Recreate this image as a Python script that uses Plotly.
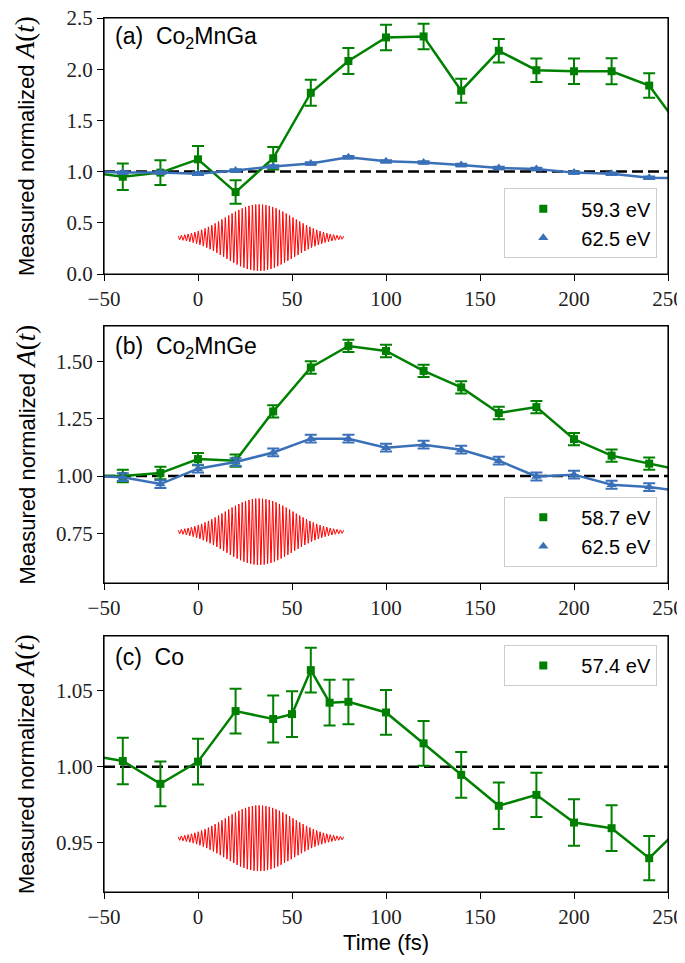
import numpy as np
import plotly.graph_objects as go
from plotly.subplots import make_subplots

# ---------------- data ----------------
time_ab = [-60, -40, -20, 0, 20, 40, 60, 80, 100, 120, 140, 160, 180, 200, 220, 240, 260]

# (a) Co2MnGa
ga_593 = [1.00, 0.95, 0.99, 1.12, 0.80, 1.13, 1.77, 2.08, 2.31, 2.32, 1.79, 2.18, 1.99, 1.98, 1.98, 1.84, 1.34]
ga_593_err = [0.12, 0.13, 0.12, 0.13, 0.115, 0.11, 0.127, 0.127, 0.125, 0.125, 0.117, 0.115, 0.115, 0.125, 0.127, 0.12, 0.12]
ga_625 = [1.00, 0.99, 0.99, 0.98, 1.01, 1.05, 1.08, 1.14, 1.10, 1.09, 1.065, 1.035, 1.025, 0.99, 0.98, 0.94, 0.935]
ga_625_err = [0.012] * 17

# (b) Co2MnGe
ge_587 = [1.00, 1.00, 1.013, 1.074, 1.067, 1.282, 1.474, 1.568, 1.546, 1.459, 1.387, 1.275, 1.301, 1.161, 1.089, 1.054, 1.02]
ge_587_err = [0.027] * 17
ge_625 = [1.00, 0.995, 0.965, 1.032, 1.061, 1.103, 1.163, 1.163, 1.124, 1.137, 1.115, 1.067, 0.998, 1.006, 0.962, 0.952, 0.93]
ge_625_err = [0.017] * 17

# (c) Co
time_c = [-60, -40, -20, 0, 20, 40, 50, 60, 70, 80, 100, 120, 140, 160, 180, 200, 220, 240, 260]
co_574 = [1.008, 1.0037, 0.9887, 1.0033, 1.0365, 1.0313, 1.0345, 1.0634, 1.042, 1.0426, 1.0356, 1.0153,
          0.9946, 0.9743, 0.9815, 0.9633, 0.9596, 0.9399, 0.964]
co_574_err = [0.015, 0.0153, 0.0147, 0.015, 0.0147, 0.0154, 0.015, 0.0147, 0.015, 0.0147, 0.0147, 0.0147,
              0.015, 0.0153, 0.0145, 0.0153, 0.015, 0.0145, 0.015]

panel_labels = ["(a)&nbsp; Co<sub>2</sub>MnGa", "(b)&nbsp; Co<sub>2</sub>MnGe", "(c)&nbsp; Co"]
legend_names_a = ["59.3 eV", "62.5 eV"]
legend_names_b = ["58.7 eV", "62.5 eV"]
legend_names_c = ["57.4 eV"]

# schematic pump pulse (illustration only)
pulse_center_t, pulse_sigma, pulse_period = 32.5, 18.0, 1.8
pulse_t = np.linspace(-10.5, 77.5, 2000)
pulse_shape = np.exp(-(pulse_t - pulse_center_t) ** 2 / (2 * pulse_sigma ** 2)) * \
    np.cos(2 * np.pi * (pulse_t - pulse_center_t) / pulse_period)
pulse_offset = [0.355, 0.757, 0.953]
pulse_amp = [0.325, 0.145, 0.0216]

GREEN = "#008000"
BLUE = "#3a70b8"
SANS = "Liberation Sans"
SERIF = "Liberation Serif"

# page offset (browser body margin) and figure size
OFF = 8
W, H = 685 - OFF, 963 - 2 * OFF
PL, PR, PT, PB = 104, 668, 18, 892   # plot region in page pixels
ML, MR, MT, MB = PL - OFF, 685 - PR, PT - OFF, (OFF + H) - PB
plot_h = PB - PT


def ydom(top, bot):
    return [(PB - bot) / plot_h, (PB - top) / plot_h]


fig = make_subplots(rows=3, cols=1)


def add_series(row, t, y, err, color, symbol, size, name, legend):
    fig.add_trace(go.Scatter(x=t, y=y, mode="lines", line=dict(color=color, width=2.5),
                             showlegend=False, hoverinfo="skip"), row=row, col=1)
    fig.add_trace(go.Scatter(x=t, y=y, mode="markers",
                             marker=dict(color=color, symbol=symbol, size=size),
                             error_y=dict(type="data", array=err, color=color, thickness=2, width=6),
                             name=name, legend=legend, showlegend=True), row=row, col=1)


for i in range(3):
    fig.add_trace(go.Scatter(x=pulse_t, y=pulse_offset[i] + pulse_amp[i] * pulse_shape, mode="lines",
                             line=dict(color="#ff0000", width=1), showlegend=False, hoverinfo="skip"),
                  row=i + 1, col=1)

add_series(1, time_ab, ga_593, ga_593_err, GREEN, "square", 8, legend_names_a[0], "legend")
add_series(1, time_ab, ga_625, ga_625_err, BLUE, "triangle-up", 9, legend_names_a[1], "legend")
add_series(2, time_ab, ge_587, ge_587_err, GREEN, "square", 8, legend_names_b[0], "legend2")
add_series(2, time_ab, ge_625, ge_625_err, BLUE, "triangle-up", 9, legend_names_b[1], "legend2")
add_series(3, time_c, co_574, co_574_err, GREEN, "square", 8, legend_names_c[0], "legend3")

for r in range(1, 4):
    fig.add_hline(y=1.0, line=dict(color="black", width=2.5, dash="11px,5px"), layer="below", row=r, col=1)

ydoms = [ydom(18, 274), ydom(326, 583), ydom(636, 892)]
yranges = [[0, 2.5], [0.533, 1.655], [0.9177, 1.0858]]
ytickvals = [[0, 0.5, 1.0, 1.5, 2.0, 2.5], [0.75, 1.0, 1.25, 1.5], [0.95, 1.0, 1.05]]
ytickfmt = [".1f", ".2f", ".2f"]

axcommon = dict(showline=True, linecolor="black", linewidth=1.2, mirror=True, ticks="outside",
                ticklen=6, tickwidth=1.3, tickcolor="black", showgrid=False, zeroline=False,
                automargin="left", ticklabeloverflow="allow",
                tickfont=dict(family=SERIF, size=21, color="#222222"))

for i in range(3):
    xs = "xaxis" if i == 0 else f"xaxis{i + 1}"
    ys = "yaxis" if i == 0 else f"yaxis{i + 1}"
    fig.layout[xs].update(domain=[0, 1], range=[-50, 250], tickvals=[-50, 0, 50, 100, 150, 200, 250],
                          **axcommon)
    fig.layout[ys].update(domain=ydoms[i], range=yranges[i], tickvals=ytickvals[i], tickformat=ytickfmt[i],
                          **axcommon)

fig.layout.xaxis3.title = dict(text="Time (fs)", font=dict(family=SANS, size=22, color="black"), standoff=6)

ytitle = ("Measured normalized <span style=\"font-family:Liberation Serif; font-size:27px\">"
          "<i>A</i>(<i>t</i>)</span>")
label_y = [0.924, 0.918, 0.918]
for i in range(3):
    yref = "y domain" if i == 0 else f"y{i + 1} domain"
    xref = "x domain" if i == 0 else f"x{i + 1} domain"
    fig.add_annotation(text=ytitle, textangle=-90, xref="x domain", x=(25 - PL) / (PR - PL), xanchor="center",
                       yref=yref, y=0.5, yanchor="middle", showarrow=False,
                       font=dict(family=SANS, size=22, color="black"))
    fig.add_annotation(text=panel_labels[i], xref=xref, x=0.0163, xanchor="left",
                       yref=yref, y=label_y[i], yanchor="middle", showarrow=False,
                       font=dict(family=SANS, size=23, color="black"))
    # axes frame (paper-referenced)
    fig.add_shape(type="rect", xref="paper", yref="paper", x0=0, x1=1, y0=ydoms[i][0], y1=ydoms[i][1],
                  line=dict(color="black", width=1.2), fillcolor="rgba(0,0,0,0)", layer="above")

legstyle = dict(bgcolor="rgba(255,255,255,0.85)", bordercolor="#cccccc", borderwidth=1,
                font=dict(family=SANS, size=20, color="black"), itemwidth=66, xanchor="right",
                tracegroupgap=0)
lx = (657.3 - PL) / (PR - PL)
fig.update_layout(
    legend=dict(x=lx, y=(PB - 258.3) / plot_h, yanchor="bottom", **legstyle),
    legend2=dict(x=lx, y=(PB - 566.7) / plot_h, yanchor="bottom", **legstyle),
    legend3=dict(x=lx, y=(PB - 645) / plot_h, yanchor="top", **legstyle),
)

fig.update_layout(width=W, height=H, autosize=False, margin=dict(l=ML, r=MR, t=MT, b=MB, pad=0),
                  plot_bgcolor="white", paper_bgcolor="white", showlegend=True)

fig.write_html("out.html")
